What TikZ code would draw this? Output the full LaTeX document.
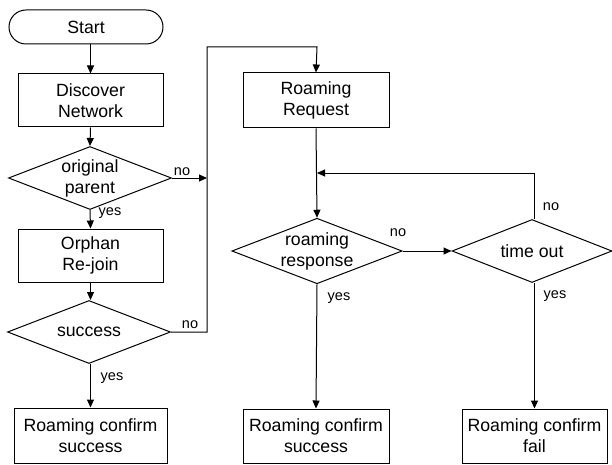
\documentclass[tikz,border=0pt]{standalone}
\usepackage{fontspec}
\setmainfont{Liberation Sans}
\usetikzlibrary{shapes.geometric,arrows.meta}
\tikzset{
  base/.style={draw, line width=1pt, font=\fontsize{17.7}{21}\selectfont, align=center, inner sep=0pt},
  procbox/.style={base, rectangle, minimum width=#1, minimum height=53pt},
  termbox/.style={base, rectangle, rounded corners=17pt, minimum width=154pt, minimum height=34pt},
  decide/.style={base, diamond, aspect=2.6, minimum width=163pt, minimum height=63pt},
  conn/.style={line width=1pt, -{Triangle[length=8pt,width=7pt]}},
  lab/.style={font=\fontsize{14.5}{16}\selectfont, inner sep=0pt}
}
\begin{document}
\begin{tikzpicture}[x=1pt,y=-1pt]
\useasboundingbox (0,0) rectangle (612,465);
\node[termbox] (start) at (86,27) {Start};
\node[procbox=145pt] (disc) at (90.5,100.5) {Discover\\Network};
\node[decide] (orig) at (90,178) {original\\parent};
\node[procbox=145pt] (orph) at (90.5,255.5) {Orphan\\Re-join};
\node[decide] (succ) at (89,332) {success};
\node[procbox=153pt, minimum height=55pt] (rcs1) at (90.5,435.5) {Roaming confirm\\success};
\node[procbox=146pt, minimum height=55pt] (rr) at (316,100.5) {Roaming\\Request};
\node[decide] (resp) at (317,251) {roaming\\response};
\node[decide, minimum width=160pt] (tout) at (532,251) {time out};
\node[procbox=146pt, minimum height=54pt] (rcs2) at (316,436) {Roaming confirm\\success};
\node[procbox=145pt, minimum height=54pt] (rcf) at (534.5,436) {Roaming confirm\\fail};

\coordinate (j1) at (207,178);
\coordinate (c1) at (207,47);
\coordinate (c2) at (317,47);
\coordinate (j2) at (317,173);
\coordinate (c3) at (534,173);

\draw[conn] (disc.north |- start.south) -- (disc.north);
\draw[conn] (disc.south) -- (orig.north);
\draw[conn] (orig.south) -- (orph.north);
\draw[conn] (orig.east) -- (j1);
\draw[conn] (orph.south) -- (orph.south |- succ.north);
\draw[conn] (succ.south -| rcs1.north) -- (rcs1.north);
\draw[conn] (succ.east) -- (succ.east -| c1) -- (c1) -- (c2) -- (rr.north);
\draw[conn] (rr.south) -- (resp.north);
\draw[conn] (resp.east) -- (tout.west);
\draw[conn] (resp.south) -- (rcs2.north);
\draw[conn] (tout.south -| rcf.north) -- (rcf.north);
\draw[conn] (tout.north -| c3) -- (c3) -- (j2);

\node[lab] (l1) at (182,172) {no};
\node[lab] (l2) at (110,213) {yes};
\node[lab] (l3) at (190,325) {no};
\node[lab] (l4) at (112,378) {yes};
\node[lab] (l5) at (398,233) {no};
\node[lab] (l6) at (339,298) {yes};
\node[lab] (l7) at (555,296) {yes};
\node[lab] (l8) at (551,207) {no};
\end{tikzpicture}
\end{document}
